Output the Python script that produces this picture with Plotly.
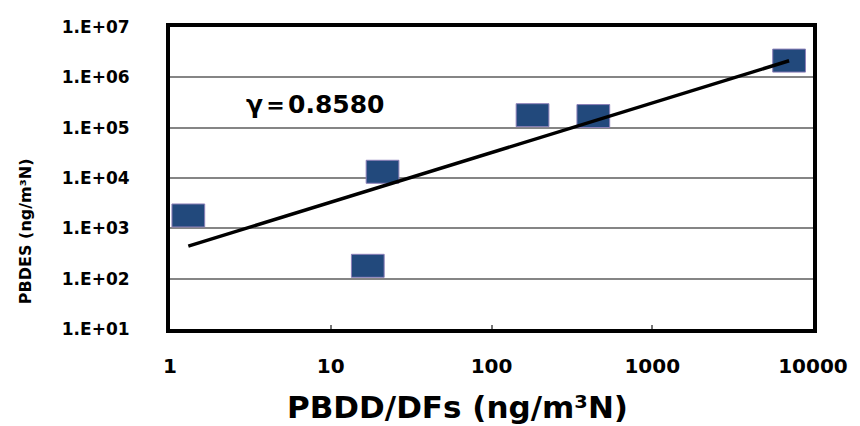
import numpy as np
import plotly.graph_objects as go

# Measured concentrations (ng/m3N)
pbdd_df = [1.3, 17, 21, 180, 430, 7100]
pbde = [1800, 180, 13300, 177000, 170000, 2150000]

# Axis tick labels
x_tickvals = [1, 10, 100, 1000, 10000]
x_ticktext = ["1", "10", "100", "1000", "10000"]
y_tickvals = [1e1, 1e2, 1e3, 1e4, 1e5, 1e6, 1e7]
y_ticktext = ["1.E+01", "1.E+02", "1.E+03", "1.E+04", "1.E+05", "1.E+06", "1.E+07"]

corr_label = "γ＝0.8580"

FONT = "DejaVu Sans"
MARKER_FILL = "#22497c"
MARKER_EDGE = "#8c7fb8"

# Plot-area geometry (pixels) used to size the rectangular markers
PLOT_W, PLOT_H = 648, 302
X_DECADES, Y_DECADES = 4, 6
MARK_W, MARK_H = 33, 23

# Power trend line: least squares in log-log space
lx = np.log10(pbdd_df)
ly = np.log10(pbde)
slope, intercept = np.polyfit(lx, ly, 1)
fit_x = np.array([min(pbdd_df), max(pbdd_df)])
fit_y = 10 ** (intercept + slope * np.log10(fit_x))

fig = go.Figure()
fig.add_trace(go.Scatter(
    x=fit_x, y=fit_y, mode="lines",
    line=dict(color="black", width=3.5),
    showlegend=False, hoverinfo="skip",
))

# Rectangular data markers centred on each point (half-size in decades)
hx = (MARK_W / 2) / (PLOT_W / X_DECADES)
hy = (MARK_H / 2) / (PLOT_H / Y_DECADES)
shapes = []
for xv, yv in zip(pbdd_df, pbde):
    shapes.append(dict(
        type="rect", xref="x", yref="y",
        x0=xv / 10 ** hx, x1=xv * 10 ** hx,
        y0=yv / 10 ** hy, y1=yv * 10 ** hy,
        fillcolor=MARKER_FILL,
        line=dict(color=MARKER_EDGE, width=1),
        layer="between",
    ))

fig.update_layout(
    width=860, height=426,
    margin=dict(l=170, r=42, t=27, b=97),
    paper_bgcolor="white", plot_bgcolor="white",
    shapes=shapes,
    font=dict(family=FONT, color="black"),
)

fig.update_xaxes(
    type="log", range=[0, 4],
    tickvals=x_tickvals, ticktext=x_ticktext,
    tickfont=dict(family=FONT, size=20, color="black", weight="bold"),
    showgrid=False, zeroline=False,
    showline=True, linecolor="black", linewidth=4, mirror=True,
    ticks="inside", ticklen=4, tickwidth=1.5, tickcolor="#777777",
    ticklabelstandoff=16,
)
fig.update_yaxes(
    type="log", range=[1, 7],
    tickvals=y_tickvals, ticktext=y_ticktext,
    tickfont=dict(family=FONT, size=17, color="black", weight="bold"),
    showgrid=True, gridcolor="#858585", gridwidth=1.5,
    zeroline=False,
    showline=True, linecolor="black", linewidth=4, mirror=True,
    ticks="", ticklabelstandoff=33,
)

fig.add_annotation(
    text=corr_label, xref="paper", yref="paper",
    x=0.1157, y=0.742, xanchor="left", yanchor="middle",
    showarrow=False,
    font=dict(family=FONT, size=25, color="black", weight="bold"),
)
fig.add_annotation(
    text="PBDD/DFs (ng/m³N)", xref="paper", yref="paper",
    x=0.4475, y=-0.258, xanchor="center", yanchor="middle",
    showarrow=False,
    font=dict(family=FONT, size=31, color="black", weight="bold"),
)
fig.add_annotation(
    text="PBDES (ng/m³N)", xref="paper", yref="paper",
    x=-0.2253, y=0.3245, xanchor="center", yanchor="middle",
    textangle=-90, showarrow=False,
    font=dict(family=FONT, size=16, color="black", weight="bold"),
)

fig.write_html("out.html")
